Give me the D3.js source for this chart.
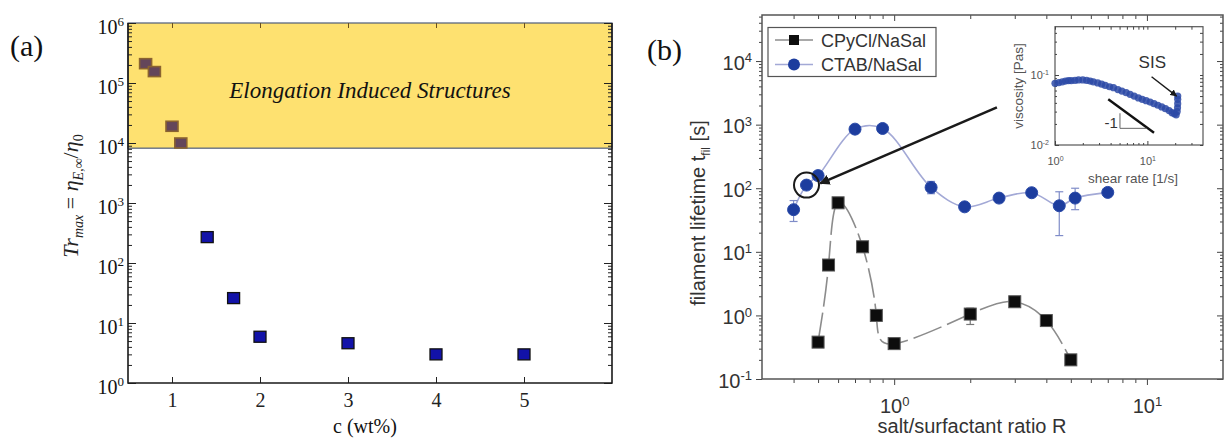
<!DOCTYPE html>
<html lang="en">
<head>
<meta charset="utf-8">
<script src="https://d3js.org/d3.v7.min.js"></script>
<title>Elongation induced structures / filament lifetime</title>
<style>
  body { margin: 0; background: #fff; }
  svg { display: block; }
</style>
</head>
<body>
<div id="plot"></div>
<script>
// ---------- panel (a) data
var concHigh = [0.7, 0.8, 1.0, 1.1];
var trHigh = [2.1e5, 1.55e5, 1.9e4, 1.0e4];
var concLow = [1.4, 1.7, 2, 3, 4, 5];
var trLow = [270, 26, 5.9, 4.6, 3.0, 3.0];
var eisFloor = 8200;                 // lower edge of the shaded region
var concTicks = [1, 2, 3, 4, 5];
var trDecades = [1, 10, 100, 1e3, 1e4, 1e5, 1e6];

// ---------- panel (b) data
var cpyR = [0.5, 0.55, 0.6, 0.75, 0.85, 1.0, 2.0, 3.0, 4.0, 5.0];
var cpyT = [0.38, 6.2, 59, 12, 1.0, 0.36, 1.05, 1.64, 0.83, 0.20];
var cpyLo = [null, null, null, null, null, null, 0.72, null, null, null];
var cpyHi = [null, null, null, null, null, null, 1.3, null, null, null];

var ctabR = [0.4, 0.45, 0.5, 0.7, 0.9, 1.4, 1.9, 2.6, 3.5, 4.5, 5.2, 7.0];
var ctabT = [46, 112, 158, 850, 870, 103, 51, 70, 85, 53, 70, 86];
var ctabLo = [30, null, null, null, null, 82, 44, null, null, 18, 46, null];
var ctabHi = [64, null, null, null, null, 128, 58, null, null, 88, 100, null];

var seriesNames = ["CPyCl/NaSal", "CTAB/NaSal"];
var lifeDecades = [0.1, 1, 10, 100, 1e3, 1e4];
var ratioDecades = [1, 10];

// ---------- inset data (viscosity curve)
var shear = [1.0, 1.1, 1.2, 1.3, 1.4, 1.5, 1.65, 1.8, 2.0, 2.2, 2.4, 2.6, 2.9, 3.2, 3.5, 3.9,
             4.3, 4.8, 5.3, 5.9, 6.5, 7.2, 8.0, 8.8, 9.7, 10.7, 11.8, 13.0, 14.3, 15.7, 17.2,
             18.5, 19.6, 20.5, 21.0, 21.2, 21.3, 21.3, 21.3];
var visc = [0.076, 0.078, 0.080, 0.082, 0.083, 0.083, 0.084, 0.085, 0.085, 0.084, 0.082, 0.080,
            0.077, 0.074, 0.071, 0.068, 0.066, 0.062, 0.059, 0.056, 0.053, 0.050, 0.047, 0.045,
            0.043, 0.041, 0.039, 0.037, 0.035, 0.033, 0.031, 0.029, 0.028, 0.027, 0.030, 0.034,
            0.039, 0.045, 0.050];

var W = 1224, H = 443;
var svg = d3.select("#plot").append("svg").attr("width", W).attr("height", H);

function minors(decades) {
    var out = [];
    decades.forEach(function(d) { for (var k = 2; k <= 9; k++) out.push(d * k); });
    return out;
}
function powLabels(sel, size) {
    sel.selectAll(".tick text").each(function(d) {
        var t = d3.select(this);
        var e = Math.round(Math.log10(d));
        t.text(null);
        t.append("tspan").text("10");
        t.append("tspan").attr("dy", "-0.55em").attr("font-size", size).text(e);
    });
}
function clean(g) { g.select(".domain").remove(); }

// ======================= panel (a) =======================
var serif = "'Liberation Serif', 'Times New Roman', serif";
var ax = d3.scaleLinear().domain([0.5, 6]).range([128, 612]);
var ay = d3.scaleLog().domain([1, 1e6]).range([383, 23]);

var pa = svg.append("g");

pa.append("rect")
    .attr("x", ax(0.5)).attr("y", ay(1e6))
    .attr("width", ax(6) - ax(0.5)).attr("height", ay(eisFloor) - ay(1e6))
    .attr("fill", "#fee170").attr("stroke", "#4f5d7a").attr("stroke-width", 1.2);

pa.append("text")
    .attr("x", (ax(0.5) + ax(6)) / 2).attr("y", 98)
    .attr("text-anchor", "middle")
    .attr("font-family", serif).attr("font-style", "italic").attr("font-size", 23)
    .attr("fill", "#111")
    .text("Elongation Induced Structures");

// ticks
pa.append("g").attr("transform", "translate(0," + ay(1) + ")")
    .call(d3.axisBottom(ax).tickValues(concTicks).tickSize(-6).tickPadding(10).tickFormat(d3.format("d")))
    .call(clean)
    .attr("color", "#222").attr("font-family", serif).attr("font-size", 20);
pa.append("g").attr("transform", "translate(0," + ay(1e6) + ")")
    .call(d3.axisTop(ax).tickValues(concTicks).tickSize(-5).tickFormat(""))
    .call(clean).attr("color", "#6a5020");

var aLeft = pa.append("g").attr("transform", "translate(" + ax(0.5) + ",0)")
    .call(d3.axisLeft(ay).tickValues(trDecades).tickSize(-8).tickPadding(4))
    .call(clean)
    .attr("color", "#222").attr("font-family", serif).attr("font-size", 20);
aLeft.selectAll(".tick text").attr("dy", "0.5em").attr("fill", "#111");
powLabels(aLeft, 13);
pa.append("g").attr("transform", "translate(" + ax(0.5) + ",0)")
    .call(d3.axisLeft(ay).tickValues(minors(trDecades.slice(0, 6))).tickSize(-4).tickFormat(""))
    .call(clean).attr("color", "#222");
pa.append("g").attr("transform", "translate(" + ax(6) + ",0)")
    .call(d3.axisRight(ay).tickValues(trDecades).tickSize(-8).tickFormat(""))
    .call(clean).attr("color", "#222");
pa.append("g").attr("transform", "translate(" + ax(6) + ",0)")
    .call(d3.axisRight(ay).tickValues(minors(trDecades.slice(0, 6))).tickSize(-4).tickFormat(""))
    .call(clean).attr("color", "#222");

// frame lines (left, bottom, right)
pa.append("path")
    .attr("d", "M" + ax(0.5) + "," + ay(1e6) + "V" + ay(1) + "H" + ax(6) + "V" + ay(1e6))
    .attr("fill", "none").attr("stroke", "#1a1a1a").attr("stroke-width", 1.6);

// markers
pa.append("g").selectAll("rect").data(concHigh).join("rect")
    .attr("x", function(d) { return ax(d) - 6; })
    .attr("y", function(d, i) { return ay(trHigh[i]) - 5; })
    .attr("width", 12).attr("height", 10)
    .attr("fill", "#64465a").attr("stroke", "#8a6330").attr("stroke-width", 1.6);
pa.append("g").selectAll("rect").data(concLow).join("rect")
    .attr("x", function(d) { return ax(d) - 6; })
    .attr("y", function(d, i) { return ay(trLow[i]) - 5.5; })
    .attr("width", 12).attr("height", 11)
    .attr("fill", "#1212a8").attr("stroke", "#111").attr("stroke-width", 1.3);

// labels
pa.append("text").attr("x", 365).attr("y", 433).attr("text-anchor", "middle")
    .attr("font-family", serif).attr("font-size", 20).attr("fill", "#111")
    .text("c (wt%)");
pa.append("text").attr("x", 10).attr("y", 56)
    .attr("font-family", serif).attr("font-size", 30).attr("fill", "#111").text("(a)");

var yl = pa.append("text")
    .attr("transform", "translate(78,196) rotate(-90)")
    .attr("text-anchor", "middle")
    .attr("font-family", serif).attr("font-size", 22).attr("fill", "#222");
yl.append("tspan").attr("font-style", "italic").text("Tr");
yl.append("tspan").attr("font-style", "italic").attr("font-size", 14).attr("dy", 5).text("max");
yl.append("tspan").attr("dy", -5).text(" = ");
yl.append("tspan").attr("font-style", "italic").text("η");
yl.append("tspan").attr("font-style", "italic").attr("font-size", 14).attr("dy", 5).text("E,∞");
yl.append("tspan").attr("dy", -5).text("/");
yl.append("tspan").attr("font-style", "italic").text("η");
yl.append("tspan").attr("font-size", 14).attr("dy", 5).text("0");

// ======================= panel (b) =======================
var sans = "Arial, 'Liberation Sans', sans-serif";
var bx = d3.scaleLog().domain([0.3, 20]).range([762, 1223]);
var by = d3.scaleLog().domain([0.1, 5.3e4]).range([379, 15]);
var pb = svg.append("g");

var bxMinor = [0.4, 0.5, 0.6, 0.7, 0.8, 0.9, 2, 3, 4, 5, 6, 7, 8, 9];
var byMinor = minors(lifeDecades).filter(function(v) { return v <= 5.3e4; });

var bBottom = pb.append("g").attr("transform", "translate(0," + by(0.1) + ")")
    .call(d3.axisBottom(bx).tickValues(ratioDecades).tickSize(6).tickPadding(14))
    .call(clean).attr("color", "#444").attr("font-family", sans).attr("font-size", 20);
bBottom.selectAll(".tick text").attr("fill", "#333");
powLabels(bBottom, 13);
pb.append("g").attr("transform", "translate(0," + by(0.1) + ")")
    .call(d3.axisBottom(bx).tickValues(bxMinor).tickSize(4).tickFormat(""))
    .call(clean).attr("color", "#444");
pb.append("g").attr("transform", "translate(0," + by(5.3e4) + ")")
    .call(d3.axisTop(bx).tickValues(ratioDecades).tickSize(-6).tickFormat(""))
    .call(clean).attr("color", "#444");
pb.append("g").attr("transform", "translate(0," + by(5.3e4) + ")")
    .call(d3.axisTop(bx).tickValues(bxMinor).tickSize(-4).tickFormat(""))
    .call(clean).attr("color", "#444");

var bLeft = pb.append("g").attr("transform", "translate(" + bx(0.3) + ",0)")
    .call(d3.axisLeft(by).tickValues(lifeDecades).tickSize(6).tickPadding(4))
    .call(clean).attr("color", "#444").attr("font-family", sans).attr("font-size", 20);
bLeft.selectAll(".tick text").attr("dy", "0.4em").attr("fill", "#333");
powLabels(bLeft, 13);
pb.append("g").attr("transform", "translate(" + bx(0.3) + ",0)")
    .call(d3.axisLeft(by).tickValues(byMinor).tickSize(3).tickFormat(""))
    .call(clean).attr("color", "#444");
pb.append("g").attr("transform", "translate(" + bx(20) + ",0)")
    .call(d3.axisRight(by).tickValues(lifeDecades).tickSize(-6).tickFormat(""))
    .call(clean).attr("color", "#444");
pb.append("g").attr("transform", "translate(" + bx(20) + ",0)")
    .call(d3.axisRight(by).tickValues(byMinor).tickSize(-3).tickFormat(""))
    .call(clean).attr("color", "#444");

pb.append("rect")
    .attr("x", bx(0.3)).attr("y", by(5.3e4))
    .attr("width", bx(20) - bx(0.3)).attr("height", by(0.1) - by(5.3e4))
    .attr("fill", "none").attr("stroke", "#555").attr("stroke-width", 1.5);

// curves
var cpyLine = d3.line()
    .x(function(d) { return bx(d); })
    .y(function(d, i) { return by(cpyT[i]); })
    .curve(d3.curveNatural);
var ctabLine = d3.line()
    .x(function(d) { return bx(d); })
    .y(function(d, i) { return by(ctabT[i]); })
    .curve(d3.curveCatmullRom.alpha(0.5));

pb.append("path").attr("d", ctabLine(ctabR))
    .attr("fill", "none").attr("stroke", "#a3a9d6").attr("stroke-width", 1.6);
pb.append("path").attr("d", cpyLine(cpyR))
    .attr("fill", "none").attr("stroke", "#8c8c8c").attr("stroke-width", 1.6)
    .attr("stroke-dasharray", "30,6");

// error bars
function errBars(g, xs, lo, hi, color) {
    xs.forEach(function(x, i) {
        if (lo[i] == null) return;
        var cx = bx(x);
        g.append("line").attr("x1", cx).attr("x2", cx).attr("y1", by(lo[i])).attr("y2", by(hi[i]))
            .attr("stroke", color).attr("stroke-width", 1.2);
        [lo[i], hi[i]].forEach(function(v) {
            g.append("line").attr("x1", cx - 4).attr("x2", cx + 4).attr("y1", by(v)).attr("y2", by(v))
                .attr("stroke", color).attr("stroke-width", 1.2);
        });
    });
}
errBars(pb.append("g"), ctabR, ctabLo, ctabHi, "#7f8cc8");
errBars(pb.append("g"), cpyR, cpyLo, cpyHi, "#777");

pb.append("g").selectAll("circle").data(ctabR).join("circle")
    .attr("cx", function(d) { return bx(d); })
    .attr("cy", function(d, i) { return by(ctabT[i]); })
    .attr("r", 6).attr("fill", "#1d3d9e").attr("stroke", "#2a4aa8").attr("stroke-width", 1);
pb.append("g").selectAll("rect").data(cpyR).join("rect")
    .attr("x", function(d) { return bx(d) - 6; })
    .attr("y", function(d, i) { return by(cpyT[i]) - 6; })
    .attr("width", 12).attr("height", 12)
    .attr("fill", "#0d0d0d").attr("stroke", "#555").attr("stroke-width", 1);

// highlighted point and arrow to inset
pb.append("circle").attr("cx", bx(ctabR[1])).attr("cy", by(ctabT[1])).attr("r", 12.5)
    .attr("fill", "none").attr("stroke", "#1a1a1a").attr("stroke-width", 2);

var defs = svg.append("defs");
defs.append("marker").attr("id", "headBig").attr("viewBox", "0 0 10 10")
    .attr("refX", 9).attr("refY", 5).attr("markerWidth", 4).attr("markerHeight", 4)
    .attr("orient", "auto")
    .append("path").attr("d", "M0,0L10,5L0,10z").attr("fill", "#1a1a1a");
defs.append("marker").attr("id", "headSmall").attr("viewBox", "0 0 10 10")
    .attr("refX", 9).attr("refY", 5).attr("markerWidth", 5).attr("markerHeight", 5)
    .attr("orient", "auto")
    .append("path").attr("d", "M0,0L10,5L0,10z").attr("fill", "#1a1a1a");

pb.append("line")
    .attr("x1", bx(2.55)).attr("y1", by(1870))
    .attr("x2", bx(0.51)).attr("y2", by(119))
    .attr("stroke", "#1a1a1a").attr("stroke-width", 2.6)
    .attr("marker-end", "url(#headBig)");

// legend
var lg = pb.append("g");
lg.append("rect").attr("x", 768).attr("y", 27.5).attr("width", 168).attr("height", 49)
    .attr("fill", "#fff").attr("stroke", "#555").attr("stroke-width", 1.2);
seriesNames.forEach(function(name, i) {
    var yy = 40 + i * 24.5;
    lg.append("line").attr("x1", 775).attr("x2", 813).attr("y1", yy).attr("y2", yy)
        .attr("stroke", i === 0 ? "#8c8c8c" : "#a3a9d6").attr("stroke-width", 1.6);
    if (i === 0) {
        lg.append("rect").attr("x", 789).attr("y", yy - 5).attr("width", 10).attr("height", 10)
            .attr("fill", "#0d0d0d");
    } else {
        lg.append("circle").attr("cx", 794).attr("cy", yy).attr("r", 6).attr("fill", "#1d3d9e");
    }
    lg.append("text").attr("x", 821).attr("y", yy + 6.5)
        .attr("font-family", sans).attr("font-size", 18).attr("fill", "#333").text(name);
});

// axis titles
pb.append("text").attr("x", 972).attr("y", 433).attr("text-anchor", "middle")
    .attr("font-family", sans).attr("font-size", 20).attr("fill", "#333")
    .text("salt/surfactant ratio R");
var ylb = pb.append("text")
    .attr("transform", "translate(705,213) rotate(-90)")
    .attr("text-anchor", "middle")
    .attr("font-family", sans).attr("font-size", 20).attr("fill", "#333");
ylb.append("tspan").text("filament lifetime t");
ylb.append("tspan").attr("font-size", 12).attr("dy", 5).text("fil");
ylb.append("tspan").attr("dy", -5).text(" [s]");

pb.append("text").attr("x", 647).attr("y", 60)
    .attr("font-family", serif).attr("font-size", 30).attr("fill", "#111").text("(b)");

// ---------- inset
var ix = d3.scaleLog().domain([1, 40]).range([1055, 1203]);
var iy = d3.scaleLog().domain([0.01, 0.49]).range([145, 26.7]);
var ins = pb.append("g");
ins.append("rect").attr("x", ix(1)).attr("y", iy(0.49))
    .attr("width", ix(40) - ix(1)).attr("height", iy(0.01) - iy(0.49))
    .attr("fill", "#fff").attr("stroke", "#555").attr("stroke-width", 1.2);

var ixMinor = [2, 3, 4, 5, 6, 7, 8, 9, 20, 30];
var iyMinor = [0.02, 0.03, 0.04, 0.05, 0.06, 0.07, 0.08, 0.09, 0.2, 0.3, 0.4];

var iB = ins.append("g").attr("transform", "translate(0," + iy(0.01) + ")")
    .call(d3.axisBottom(ix).tickValues([1, 10]).tickSize(-4).tickPadding(12))
    .call(clean).attr("color", "#444").attr("font-family", sans).attr("font-size", 11);
iB.selectAll(".tick text").attr("fill", "#555");
powLabels(iB, 7);
ins.append("g").attr("transform", "translate(0," + iy(0.01) + ")")
    .call(d3.axisBottom(ix).tickValues(ixMinor).tickSize(-2).tickFormat(""))
    .call(clean).attr("color", "#444");
ins.append("g").attr("transform", "translate(0," + iy(0.49) + ")")
    .call(d3.axisTop(ix).tickValues([1, 10].concat(ixMinor)).tickSize(-3).tickFormat(""))
    .call(clean).attr("color", "#444");
var iL = ins.append("g").attr("transform", "translate(" + ix(1) + ",0)")
    .call(d3.axisLeft(iy).tickValues([0.01, 0.1]).tickSize(-4).tickPadding(6))
    .call(clean).attr("color", "#444").attr("font-family", sans).attr("font-size", 11);
iL.selectAll(".tick text").attr("fill", "#555");
powLabels(iL, 7);
ins.append("g").attr("transform", "translate(" + ix(1) + ",0)")
    .call(d3.axisLeft(iy).tickValues(iyMinor).tickSize(-2).tickFormat(""))
    .call(clean).attr("color", "#444");
ins.append("g").attr("transform", "translate(" + ix(40) + ",0)")
    .call(d3.axisRight(iy).tickValues([0.01, 0.1].concat(iyMinor)).tickSize(-3).tickFormat(""))
    .call(clean).attr("color", "#444");

ins.append("g").selectAll("circle").data(shear).join("circle")
    .attr("cx", function(d) { return ix(d); })
    .attr("cy", function(d, i) { return iy(visc[i]); })
    .attr("r", 3.6).attr("fill", "#2b49a6").attr("fill-opacity", 0.85);

ins.append("line").attr("x1", ix(3.77)).attr("y1", iy(0.045))
    .attr("x2", ix(11.8)).attr("y2", iy(0.015))
    .attr("stroke", "#111").attr("stroke-width", 2.4);
ins.append("path")
    .attr("d", "M" + ix(5.05) + "," + iy(0.0284) + "V" + iy(0.0173) + "H" + ix(9.8))
    .attr("fill", "none").attr("stroke", "#666").attr("stroke-width", 1);
ins.append("text").attr("x", ix(4.8)).attr("y", iy(0.0175)).attr("text-anchor", "end")
    .attr("font-family", sans).attr("font-size", 15).attr("fill", "#333").text("-1");
ins.append("text").attr("x", ix(11.3)).attr("y", iy(0.126)).attr("text-anchor", "middle")
    .attr("font-family", sans).attr("font-size", 17).attr("fill", "#333").text("SIS");
ins.append("line").attr("x1", ix(11.1)).attr("y1", iy(0.0946))
    .attr("x2", ix(20.7)).attr("y2", iy(0.050))
    .attr("stroke", "#1a1a1a").attr("stroke-width", 1.4)
    .attr("marker-end", "url(#headSmall)");

ins.append("text").attr("x", 1133).attr("y", 183).attr("text-anchor", "middle")
    .attr("font-family", sans).attr("font-size", 13.5).attr("fill", "#555")
    .text("shear rate [1/s]");
ins.append("text").attr("transform", "translate(1023,86) rotate(-90)")
    .attr("text-anchor", "middle")
    .attr("font-family", sans).attr("font-size", 13.5).attr("fill", "#555")
    .text("viscosity [Pas]");
</script>
</body>
</html>
